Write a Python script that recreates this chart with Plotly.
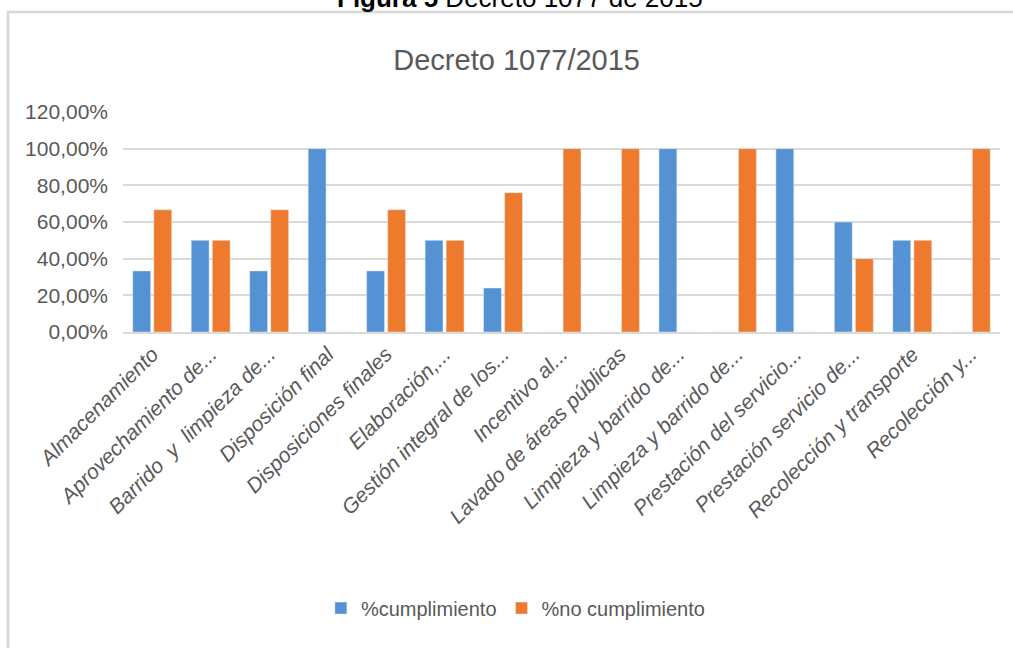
import plotly.graph_objects as go

# Categorías del decreto y porcentajes (fracciones)
categorias = [
    "Almacenamiento",
    "Aprovechamiento de...",
    "Barrido  y  limpieza de...",
    "Disposición final",
    "Disposiciones finales",
    "Elaboración,...",
    "Gestión integral de los...",
    "Incentivo al...",
    "Lavado de áreas públicas",
    "Limpieza y barrido de...",
    "Limpieza y barrido de...",
    "Prestación del servicio...",
    "Prestación servicio de...",
    "Recolección y transporte",
    "Recolección y...",
]
cumplimiento = [0.3333, 0.50, 0.3333, 1.00, 0.3333, 0.50, 0.24, 0.0, 0.0, 1.00, 0.0, 1.00, 0.60, 0.50, 0.0]
no_cumplimiento = [0.6667, 0.50, 0.6667, 0.0, 0.6667, 0.50, 0.76, 1.00, 1.00, 0.0, 1.00, 0.0, 0.40, 0.50, 1.00]
y_ticks = [0, 0.2, 0.4, 0.6, 0.8, 1.0, 1.2]

posiciones = list(range(len(categorias)))
gris = "#595959"
fuente = "Liberation Sans Narrow, Arial Narrow, Liberation Sans, sans-serif"

fig = go.Figure()
fig.add_trace(go.Bar(
    x=posiciones, y=cumplimiento, name="%cumplimiento",
    marker_color="#5592D3",
))
fig.add_trace(go.Bar(
    x=posiciones, y=no_cumplimiento, name="%no cumplimiento",
    marker_color="#EE7A2E",
))

fig.update_layout(
    width=1013, height=648,
    margin=dict(l=123, r=13, t=112, b=316, autoexpand=False),
    paper_bgcolor="white", plot_bgcolor="white",
    separators=",.",
    barmode="group", bargap=0.28, bargroupgap=0.15,
    font=dict(family=fuente, color=gris),
    title=dict(text="Decreto 1077/2015", x=0.51, xanchor="center",
               y=1 - 60 / 648, yanchor="middle",
               font=dict(size=29, color=gris, family=fuente)),
    legend=dict(orientation="h", x=0.448, xanchor="center", y=-1.255, yanchor="middle",
                font=dict(size=20, color=gris, family=fuente),
                itemwidth=30),
    showlegend=True,
)
fig.update_xaxes(
    tickvals=posiciones, ticktext=categorias, tickangle=-45,
    range=[-0.5, len(categorias) - 0.5], automargin=False,
    tickfont=dict(size=21, color=gris, style="italic"),
    showline=True, linecolor="#d9d9d9", linewidth=1.5,
    showgrid=False, ticks="",
)
fig.update_yaxes(
    range=[0, 1.2], tickvals=y_ticks, tickformat=".2%", automargin=False,
    tickfont=dict(size=21, color=gris),
    gridcolor="#d9d9d9", gridwidth=1.5, zeroline=False,
    ticks="", ticklabelstandoff=14,
)

# marco del gráfico
fig.add_shape(type="rect", xref="paper", yref="paper",
              x0=(8 - 123) / 877, x1=(1030 - 123) / 877,
              y0=(332 - 670) / 220, y1=(332 - 12) / 220,
              line=dict(color="#d6d6d6", width=2.5), layer="below")

# leyenda de figura (cortada arriba, como en el original)
fig.add_annotation(text="<b>Figura 5</b> Decreto 1077 de 2015",
                   xref="paper", yref="paper",
                   x=(520 - 123) / 877, y=(332 + 2) / 220,
                   xanchor="center", yanchor="middle", showarrow=False,
                   font=dict(size=26, color="black", family="Liberation Sans, Arial, sans-serif"))

fig.write_html("out.html", config={"displayModeBar": False},
               post_script="document.body.style.margin='0';")
